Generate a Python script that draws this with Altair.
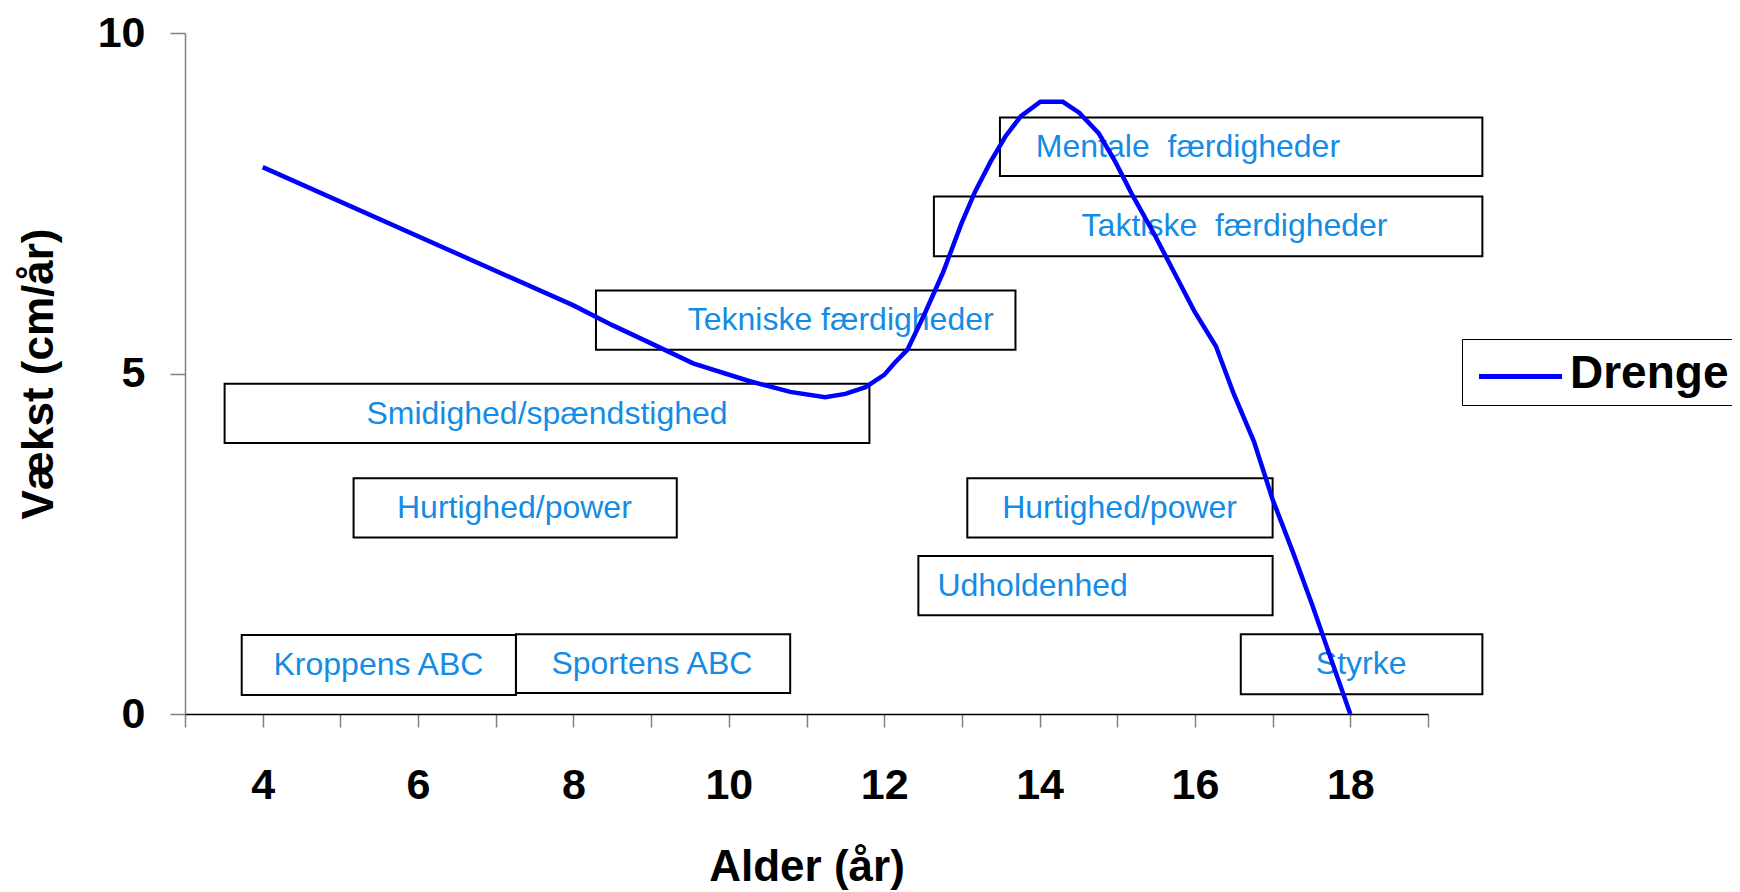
import altair as alt
import pandas as pd

# ---- data ----
age = [4.0, 8.0, 8.5, 9.04, 9.54, 10.26, 10.79, 11.24, 11.5, 11.76, 12.0, 12.13, 12.3,
       12.53, 12.76, 12.99, 13.17, 13.37, 13.56, 13.76, 14.01, 14.3, 14.51, 14.76, 14.97,
       15.19, 15.47, 15.73, 15.99, 16.27, 16.5, 16.76, 17.0, 17.26, 17.51, 17.76, 18.0]
growth = [8.03, 6.0, 5.71, 5.42, 5.15, 4.89, 4.73, 4.65, 4.70, 4.80, 4.98, 5.15, 5.35,
          5.9, 6.49, 7.19, 7.67, 8.11, 8.48, 8.78, 8.99, 8.99, 8.83, 8.53, 8.12,
          7.63, 7.06, 6.49, 5.92, 5.40, 4.70, 4.0, 3.15, 2.38, 1.60, 0.78, 0.0]
series = "Drenge"

box_labels = ["Mentale\u00a0 færdigheder", "Taktiske\u00a0 færdigheder", "Tekniske færdigheder",
              "Smidighed/spændstighed", "Hurtighed/power", "Hurtighed/power",
              "Udholdenhed", "Kroppens ABC", "Sportens ABC", "Styrke"]
box_x1 = [13.49, 12.64, 8.29, 3.51, 5.17, 13.07, 12.44, 3.73, 7.26, 16.59]
box_x2 = [19.70, 19.70, 13.69, 11.81, 9.33, 17.00, 17.00, 7.26, 10.79, 19.70]
box_y1 = [7.90, 6.72, 5.35, 3.98, 2.59, 2.59, 1.45, 0.28, 0.31, 0.29]
box_y2 = [8.76, 7.60, 6.22, 4.85, 3.46, 3.46, 2.32, 1.16, 1.17, 1.17]
text_x = [15.91, 16.51, 11.44, 7.66, 7.24, 15.03, 13.91, 5.49, 9.01, 18.14]
text_y = [8.33, 7.16, 5.78, 4.41, 3.03, 3.03, 1.88, 0.72, 0.74, 0.73]

x_ticks = list(range(3, 20))
y_ticks = [0, 5, 10]

line_df = pd.DataFrame({"age": age, "growth": growth, "series": series})
box_df = pd.DataFrame({"label": box_labels, "x1": box_x1, "x2": box_x2,
                       "y1": box_y1, "y2": box_y2, "tx": text_x, "ty": text_y})

FONT = "Liberation Sans"

x_scale = alt.Scale(domain=[3, 19], nice=False, zero=False)
y_scale = alt.Scale(domain=[0, 10], nice=False, zero=False)

x_axis = alt.Axis(values=x_ticks, format="d",
                  labelExpr="datum.value % 2 == 0 ? datum.label : ''",
                  title="Alder (år)", grid=False, domainColor="black", domainWidth=1.5,
                  tickColor="#808080", tickWidth=1.5, tickSize=13,
                  labelFont=FONT, labelFontSize=43, labelFontWeight="bold", labelColor="black",
                  labelPadding=37, labelBaseline="top",
                  titleFont=FONT, titleFontSize=44, titleFontWeight="bold", titleColor="black",
                  titleBaseline="alphabetic", titleY=166)
y_axis = alt.Axis(values=y_ticks, format="d", title="Vækst (cm/år)", grid=False,
                  domainColor="#808080", domainWidth=1.5,
                  tickColor="#808080", tickWidth=1.5, tickSize=15,
                  labelFont=FONT, labelFontSize=43, labelFontWeight="bold", labelColor="black",
                  labelPadding=25,
                  titleFont=FONT, titleFontSize=44, titleFontWeight="bold", titleColor="black",
                  titleBaseline="alphabetic", titleX=-133)

boxes = alt.Chart(box_df).mark_rect(fillOpacity=0, stroke="black", strokeWidth=2).encode(
    x=alt.X("x1:Q", scale=x_scale, axis=x_axis),
    x2="x2:Q",
    y=alt.Y("y1:Q", scale=y_scale, axis=y_axis),
    y2="y2:Q",
)

texts = alt.Chart(box_df).mark_text(font=FONT, fontSize=32, color="#148ce6",
                                    align="center", baseline="middle").encode(
    x=alt.X("tx:Q", scale=x_scale),
    y=alt.Y("ty:Q", scale=y_scale),
    text="label:N",
)

line = alt.Chart(line_df).mark_line(strokeWidth=4.5).encode(
    x=alt.X("age:Q", scale=x_scale),
    y=alt.Y("growth:Q", scale=y_scale),
    color=alt.Color("series:N", scale=alt.Scale(range=["#0000ff"]),
                    legend=alt.Legend(title=None, orient="none", legendX=1277, legendY=306,
                                      strokeColor="black", padding=8,
                                      symbolType="M-1.73,0.12H1.73", symbolSize=2304,
                                      symbolOffset=24, symbolStrokeWidth=5,
                                      labelOffset=23,
                                      labelFont=FONT, labelFontSize=46,
                                      labelFontWeight="bold", labelColor="black",
                                      labelLimit=400)),
)

chart = alt.layer(boxes, texts, line).properties(
    width=1243, height=681,
    background="white",
    autosize=alt.AutoSizeParams(type="none"),
    padding={"left": 177, "top": 25, "right": 304, "bottom": 176},
).configure_view(stroke="transparent")

chart.save("out.html", embed_options={"renderer": "svg", "actions": False})
